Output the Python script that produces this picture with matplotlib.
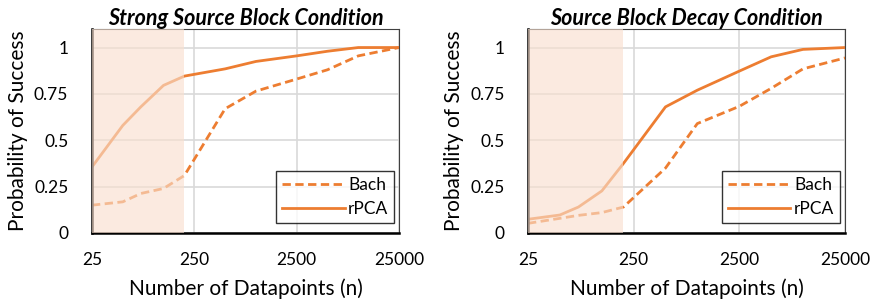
import numpy as np
import matplotlib
matplotlib.use("Agg")
from matplotlib import pyplot as plt

plt.rcParams['font.family'] = ['Lato', 'DejaVu Sans']

# shared x positions (number of datapoints)
n_points = [25, 50, 75, 125, 200, 500, 1000, 2500, 5000, 10000, 25000]

# Strong Source Block Condition
strong_bach = [0.15, 0.168, 0.213, 0.24, 0.31, 0.67, 0.765, 0.83, 0.88, 0.955, 1.0]
strong_rpca = [0.356, 0.58, 0.68, 0.796, 0.846, 0.885, 0.925, 0.955, 0.98, 1.0, 1.0]

# Source Block Decay Condition
decay_bach = [0.052, 0.079, 0.095, 0.11, 0.14, 0.35, 0.59, 0.683, 0.78, 0.885, 0.944]
decay_rpca = [0.074, 0.097, 0.14, 0.227, 0.375, 0.68, 0.77, 0.873, 0.95, 0.99, 1.0]

titles = ["Strong Source Block Condition", "Source Block Decay Condition"]
x_ticks = [25, 250, 2500, 25000]
y_ticks = [0, 0.25, 0.5, 0.75, 1]
y_tick_labels = ["0", "0.25", "0.5", "0.75", "1"]
shade_end = 200

orange = "#ED7D31"

fig = plt.figure(figsize=(8.71, 3.02), dpi=100)
ax_left = fig.add_axes([0.1056, 0.2285, 0.3525, 0.6755])
ax_right = fig.add_axes([0.6062, 0.2285, 0.364, 0.6755])

panels = [
    (ax_left, titles[0], strong_bach, strong_rpca),
    (ax_right, titles[1], decay_bach, decay_rpca),
]

for ax, title, bach, rpca in panels:
    ax.plot(n_points, bach, color=orange, lw=2.0, ls=(0, (3, 1.6)), label="Bach", zorder=2)
    ax.plot(n_points, rpca, color=orange, lw=2.0, label="rPCA", zorder=2)
    # shaded low-data region drawn over the lines
    ax.axvspan(25, shade_end, color="#F9DFCE", alpha=0.63, lw=0, zorder=3)

    ax.set_xscale("log")
    ax.set_xlim(25, 25000)
    ax.set_ylim(0, 1.1)
    ax.set_xticks(x_ticks)
    ax.set_xticklabels([str(t) for t in x_ticks])
    ax.minorticks_off()
    ax.set_yticks(y_ticks)
    ax.set_yticklabels(y_tick_labels)
    ax.tick_params(length=0, labelsize=12.5)
    ax.tick_params(axis="x", pad=14)
    ax.tick_params(axis="y", pad=17)
    ax.grid(True, color="#D9D9D9", lw=1.2, zorder=0)
    ax.set_axisbelow(True)

    for side in ["top", "right"]:
        ax.spines[side].set_color("#404040")
        ax.spines[side].set_linewidth(0.8)
    for side in ["left", "bottom"]:
        ax.spines[side].set_color("black")
        ax.spines[side].set_linewidth(1.8)

    ax.set_title(title, fontsize=15.5, fontweight="bold", style="italic", pad=3)
    ax.set_xlabel("Number of Datapoints (n)", fontsize=15, labelpad=7)
    ax.set_ylabel("Probability of Success", fontsize=15, labelpad=4)

    leg = ax.legend(loc="lower right", fontsize=12.5, frameon=True, fancybox=False,
                    handlelength=3.6, borderpad=0.35, labelspacing=0.45,
                    handletextpad=0.2, borderaxespad=0, bbox_to_anchor=(0.985, 0.05))
    leg.get_frame().set_edgecolor("black")
    leg.get_frame().set_linewidth(1.0)
    leg.set_zorder(5)

fig.savefig("out.png", dpi=100)
